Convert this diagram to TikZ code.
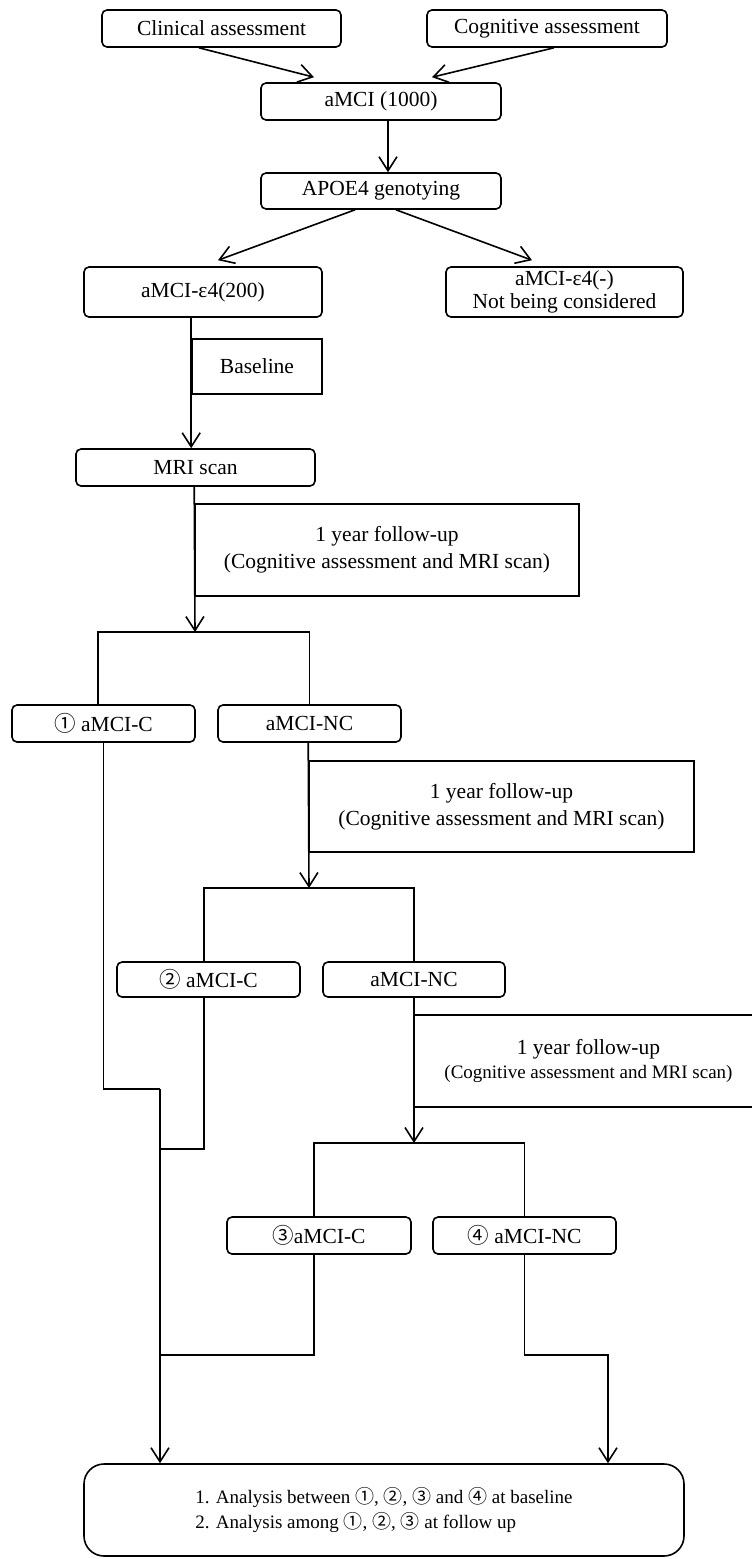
\documentclass[tikz,border=0pt]{standalone}
\usepackage{fontspec}
\setmainfont{Liberation Serif}
\newfontfamily\cjkfont{Noto Sans CJK JP}
\usetikzlibrary{arrows.meta,calc}
\newcommand{\cnum}[1]{{\cjkfont #1}}
\begin{document}
\begin{tikzpicture}[x=1pt,y=-1pt,
  line width=1.6pt,
  >={Straight Barb[length=14pt,width=18pt]},
  every node/.style={font=\fontsize{21.5}{25}\selectfont, inner sep=0pt, align=center},
  rbox/.style={draw, rounded corners=5pt},
  sbox/.style={draw},
]
\useasboundingbox (0,0) rectangle (752,1559);

% boxes
\node[rbox, minimum width=239pt, minimum height=37pt] (clin) at (221.5,28.5) {Clinical assessment};
\node[rbox, minimum width=240pt, minimum height=37pt] (cog) at (547,28.5) {Cognitive assessment};
\node[rbox, minimum width=240pt, minimum height=37pt] (amci) at (381,101.5) {aMCI (1000)};
\node[rbox, minimum width=240pt, minimum height=36pt] (apoe) at (381,191) {APOE4 genotying};
\node[rbox, minimum width=238pt, minimum height=50pt] (e4p) at (203,292) {aMCI-ε4(200)};
\node[rbox, minimum width=237pt, minimum height=50pt, font=\fontsize{21.5}{23}\selectfont] (e4n) at (564.5,292) {aMCI-ε4(-)\\Not being considered};
\node[sbox, minimum width=130pt, minimum height=55pt] (base) at (257,366.5) {Baseline};
\node[rbox, minimum width=239pt, minimum height=37pt] (mri) at (195.5,467.5) {MRI scan};
\node[sbox, minimum width=384pt, minimum height=92pt, font=\fontsize{21.5}{27}\selectfont] (fu1) at (387,550) {1 year follow-up\\(Cognitive assessment and MRI scan)};
\node[rbox, minimum width=183pt, minimum height=37pt] (c1) at (103.5,723.5) {\cnum{①} aMCI-C};
\node[rbox, minimum width=183pt, minimum height=37pt] (nc1) at (309.5,723.5) {aMCI-NC};
\node[sbox, minimum width=385pt, minimum height=91pt, font=\fontsize{21.5}{27}\selectfont] (fu2) at (501.5,806.5) {1 year follow-up\\(Cognitive assessment and MRI scan)};
\node[rbox, minimum width=183pt, minimum height=35pt] (c2) at (208.5,979.5) {\cnum{②} aMCI-C};
\node[rbox, minimum width=182pt, minimum height=35pt] (nc2) at (414,979.5) {aMCI-NC};
\node[sbox, minimum width=349pt, minimum height=92pt, font=\fontsize{21.5}{24}\selectfont] (fu3) at (588.5,1061) {1 year follow-up\\{\fontsize{19}{24}\selectfont (Cognitive assessment and MRI scan)}};
\node[rbox, minimum width=184pt, minimum height=37pt] (c3) at (319,1235.5) {\cnum{③}aMCI-C};
\node[rbox, minimum width=183pt, minimum height=37pt] (c4) at (524.5,1235.5) {\cnum{④} aMCI-NC};
\node[draw, rounded corners=20pt, minimum width=600pt, minimum height=92pt, align=left, font=\fontsize{19}{25}\selectfont] (fin) at (384,1510) {1. Analysis between \cnum{①}, \cnum{②}, \cnum{③} and \cnum{④} at baseline\\2. Analysis among \cnum{①}, \cnum{②}, \cnum{③} at follow up};

% junction coordinates
\coordinate (j1) at (195,632);
\coordinate (j2) at (309,888);
\coordinate (j3) at (414,1143);
\coordinate (k1) at (160,1089);
\coordinate (k2) at (160,1149);
\coordinate (k3) at (160,1355);
\coordinate (k4) at (608,1355);

% connectors
\draw[->] ($(clin.south)+(-22.5,0)$) -- ($(amci.north)+(-67,-5)$);
\draw[->] ($(cog.south)+(7,0)$) -- ($(amci.north)+(51,-5)$);
\draw[->] ($(amci.south)+(7,0)$) -- ($(apoe.north)+(7,0)$);
\draw[->] ($(apoe.south)+(-26,0)$) -- ($(e4p.north)+(15,-6)$);
\draw[->] ($(apoe.south)+(15,0)$) -- ($(e4n.north)+(-32.5,-6)$);
\draw[->] (e4p.south -| base.west) -- (mri.north -| base.west);

\draw[->] (mri.south -| fu1.west) -- (j1);
\draw ($(c1.north)+(-5.5,0)$) |- (j1) -| (nc1.north);
\draw[->] (nc1.south -| fu2.west) -- (j2);
\draw ($(c2.north)+(-4.5,0)$) |- (j2) -| (nc2.north);
\draw[->] (nc2.south) -- (j3);
\draw ($(c3.north)+(-5,0)$) |- (j3) -| (c4.north);

\draw (c1.south) |- (k1);
\draw[->] (k1) -- (k1 |- fin.north);
\draw ($(c2.south)+(-4.5,0)$) |- (k2);
\draw ($(c3.south)+(-5,0)$) |- (k3);
\draw[->] (c4.south) |- (k4) -- (k4 |- fin.north);
\end{tikzpicture}
\end{document}
